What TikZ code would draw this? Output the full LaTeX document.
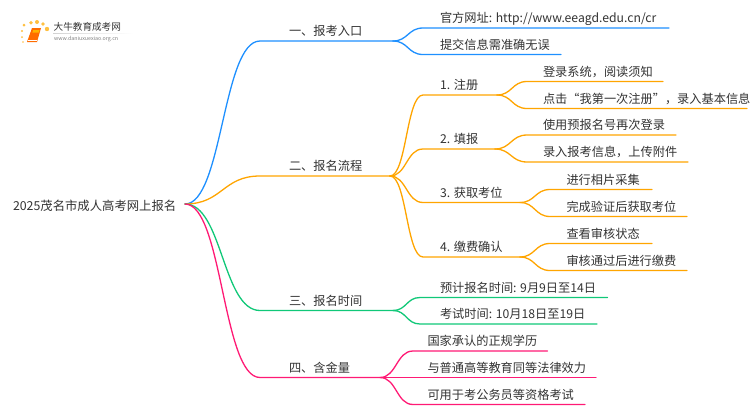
\documentclass[tikz,border=0pt]{standalone}
\usepackage{fontspec}
\setmainfont{Noto Sans CJK SC}
\usetikzlibrary{calc}
\definecolor{cblue}{HTML}{1E90FF}
\definecolor{corange}{HTML}{FFA500}
\definecolor{cgreen}{HTML}{10C878}
\definecolor{cpink}{HTML}{FF1A75}
\definecolor{ctext}{HTML}{333333}
\definecolor{cdot}{HTML}{FFC040}
\newcommand{\fs}{\fontsize{12.2}{14}\selectfont}
\tikzset{
  txt/.style={inner sep=0pt,outer sep=0pt,text=ctext,font=\fs,anchor=base west},
  wire/.style={line width=1.3pt,line cap=round},
}
% name, textx, curve-end x, line-end x, line y, text, colour, parent
\newcommand{\leafnode}[8]{%
  \node[txt] (#1) at (#2,#5-5.5) {#6};
  \coordinate (#1s) at (#3,#5);
  \coordinate (#1e) at (#4,#5);
  \draw[wire,#7] let \p1=(#8),\p2=(#1s),\n1={(\x1+\x2)/2} in (#8) .. controls (\n1,\y1) and (\n1,\y2) .. (#1s) -- (#1e);
}
\begin{document}
\begin{tikzpicture}[x=1pt,y=-1pt]
\useasboundingbox (0,0) rectangle (750,410);
\fill[white] (0,0) rectangle (750,410);
% logo
\foreach \a/\b/\r in {23/42/.8,22/37/1,22/31/1.2,24/25/1.5,31/22.7/1.9,37/22/2,43/24/1.9,47/29/2.2}{\fill[cdot] (\a,\b) circle (\r);}
\fill[orange!85!red] (32,28) -- (41,28) -- (37,42) -- (27,42) -- cycle;
\fill[orange!60!yellow] (33.2,30) -- (39.6,30) -- (38.8,32.5) -- (32.4,32.5) -- cycle;
\draw[white,line width=.5pt] (28,40.5) -- (36.5,40.5);
\shade[left color=gray!35,right color=white] (53,33) rectangle (133,33.5);
\node[inner sep=0pt,anchor=west,text=ctext,font=\fontsize{9.6}{11}\selectfont] (logotext) at (53.5,27) {大牛教育成考网};
\node[inner sep=0pt,anchor=west,text=gray,font=\fontsize{5.3}{6}\selectfont] (logourl) at (54,39) {www.daniuxuexiao.org.cn};
% root
\node[txt,font=\fontsize{12.35}{14}\selectfont] (root) at (13,210) {2025茂名市成人高考网上报名};
\coordinate (r) at (185,204);
% level 1
\leafnode{b1}{289}{260}{393}{41}{一、报考入口}{cblue}{r}
\leafnode{b2}{289}{260}{390}{176}{二、报名流程}{corange}{r}
\leafnode{b3}{289}{260}{393}{310.5}{三、报名时间}{cgreen}{r}
\leafnode{b4}{289}{260}{380}{377.5}{四、含金量}{cpink}{r}
% branch 1
\leafnode{a1}{440}{423}{669}{28}{官方网址: http://www.eeagd.edu.cn/cr}{cblue}{b1e}
\leafnode{a2}{440}{423}{561}{54.5}{提交信息需准确无误}{cblue}{b1e}
% branch 2
\leafnode{s1}{440}{423}{497}{95}{1. 注册}{corange}{b2e}
\leafnode{s2}{440}{423}{495}{149}{2. 填报}{corange}{b2e}
\leafnode{s3}{440}{423}{520}{202.5}{3. 获取考位}{corange}{b2e}
\leafnode{s4}{440}{423}{520}{257}{4. 缴费确认}{corange}{b2e}
\leafnode{c11}{543}{527}{663}{81.5}{登录系统，阅读须知}{corange}{s1e}
\leafnode{c12}{543}{527}{747}{108.5}{点击“我第一次注册”，录入基本信息}{corange}{s1e}
\leafnode{c21}{543}{527}{676}{135}{使用预报名号再次登录}{corange}{s2e}
\leafnode{c22}{543}{527}{688}{162}{录入报考信息，上传附件}{corange}{s2e}
\leafnode{c31}{566.5}{550}{652}{189.5}{进行相片采集}{corange}{s3e}
\leafnode{c32}{566.5}{550}{687}{216.5}{完成验证后获取考位}{corange}{s3e}
\leafnode{c41}{566.5}{550}{652}{243.5}{查看审核状态}{corange}{s4e}
\leafnode{c42}{566.5}{550}{687}{270.5}{审核通过后进行缴费}{corange}{s4e}
% branch 3
\leafnode{d1}{440}{420}{607.5}{297.5}{预计报名时间: 9月9日至14日}{cgreen}{b3e}
\leafnode{d2}{440}{420}{597}{324}{考试时间: 10月18日至19日}{cgreen}{b3e}
% branch 4
\leafnode{e1}{427.5}{413}{547.5}{351}{国家承认的正规学历}{cpink}{b4e}
\node[txt] (e2) at (427.5,372) {与普通高等教育同等法律效力};
\coordinate (e2e) at (596,377.5);
\draw[wire,cpink] (b4e) -- (e2e);
\leafnode{e3}{427.5}{413}{585}{404.5}{可用于考公务员等资格考试}{cpink}{b4e}
\end{tikzpicture}
\end{document}
